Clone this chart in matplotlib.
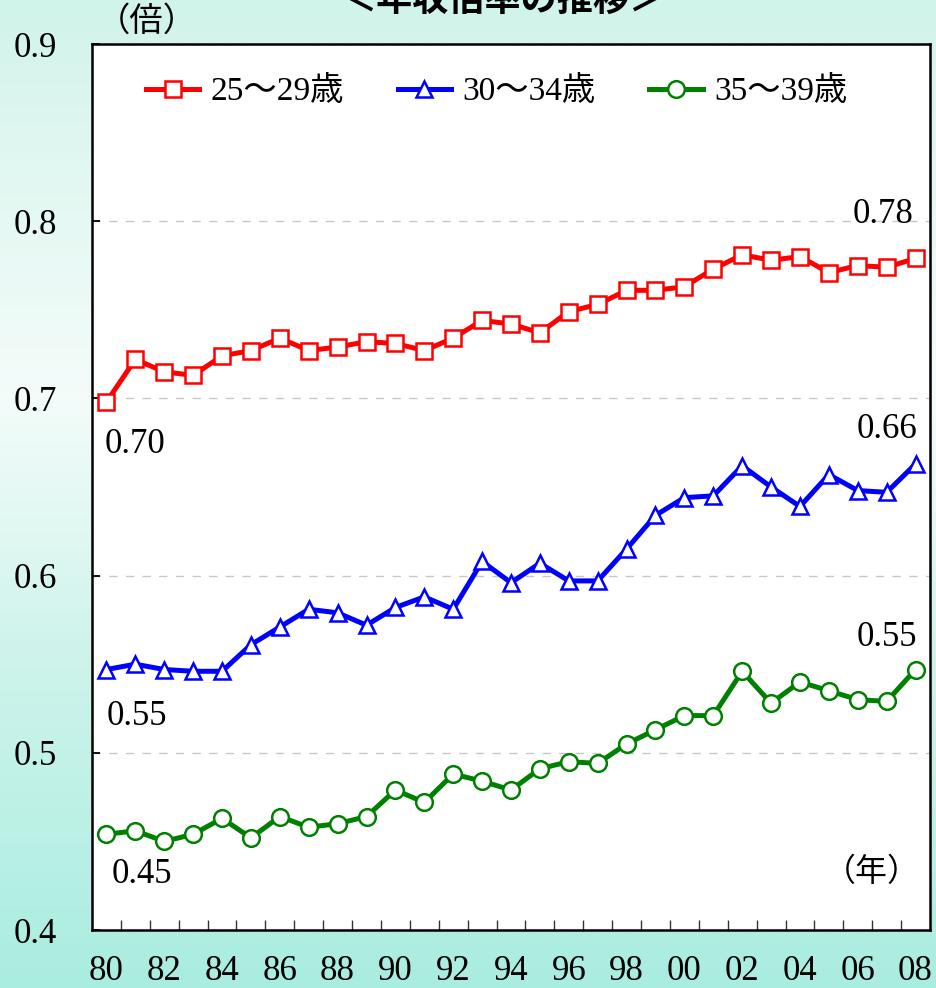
import numpy as np
import matplotlib
matplotlib.use("Agg")
import matplotlib.pyplot as plt
from matplotlib.colors import LinearSegmentedColormap

plt.rcParams['font.family'] = ['Liberation Serif', 'Noto Sans CJK JP']

# 年（1980〜2008）
years = list(range(1980, 2009))

# 年収倍率
ratio_25_29 = [0.698, 0.722, 0.715, 0.713, 0.724, 0.727, 0.734, 0.727, 0.729, 0.732,
               0.731, 0.727, 0.734, 0.744, 0.742, 0.737, 0.749, 0.753, 0.761, 0.761,
               0.763, 0.773, 0.781, 0.778, 0.780, 0.771, 0.775, 0.774, 0.779]
ratio_30_34 = [0.547, 0.550, 0.547, 0.546, 0.546, 0.561, 0.571, 0.581, 0.579, 0.572,
               0.582, 0.588, 0.581, 0.608, 0.596, 0.607, 0.597, 0.597, 0.615, 0.634,
               0.644, 0.645, 0.662, 0.650, 0.639, 0.657, 0.648, 0.647, 0.663]
ratio_35_39 = [0.454, 0.456, 0.450, 0.454, 0.463, 0.452, 0.464, 0.458, 0.460, 0.464,
               0.479, 0.472, 0.488, 0.484, 0.479, 0.491, 0.495, 0.494, 0.505, 0.513,
               0.521, 0.521, 0.546, 0.528, 0.540, 0.535, 0.530, 0.529, 0.547]

series = [
    ("25～29歳", ratio_25_29, "red", "s"),
    ("30～34歳", ratio_30_34, "blue", "^"),
    ("35～39歳", ratio_35_39, "green", "o"),
]

fig = plt.figure(figsize=(9.36, 9.88), dpi=100)

# 背景のグラデーション
bg = fig.add_axes([0, 0, 1, 1], zorder=-10)
cmap = LinearSegmentedColormap.from_list(
    "bg", [(0.0, "#a9ede0"), (0.35, "#d0f4ec"), (0.6, "#f4fcfa"), (0.85, "#e0f7f1"), (1.0, "#d0f3ea")])
grad = np.linspace(0, 1, 256).reshape(-1, 1)
bg.imshow(grad, aspect="auto", cmap=cmap, origin="lower", extent=[0, 1, 0, 1])
bg.axis("off")

ax = fig.add_axes([92/936, 58/988, 838/936, 886/988])
ax.set_facecolor("white")

for label, vals, color, marker in series:
    ax.plot(years, vals, color=color, lw=3.6, marker=marker, ms=12,
            mfc="white", mec=color, mew=1.8, label=label, zorder=3)

ax.set_xlim(1979.5, 2008.5)
ax.set_ylim(0.4, 0.9)

# 目盛り
ax.set_yticks([0.4, 0.5, 0.6, 0.7, 0.8, 0.9])
ax.set_yticklabels([f"{v:.1f}" for v in [0.4, 0.5, 0.6, 0.7, 0.8, 0.9]])
ax.tick_params(axis="y", direction="in", length=6, width=1.3, pad=25, labelsize=25)
ax.set_xticks(years[::2])
ax.set_xticklabels([f"{y % 100:02d}" for y in years[::2]])
ax.set_xticks([y + 0.5 for y in years[:-1]], minor=True)
ax.tick_params(axis="x", which="major", length=0, pad=18, labelsize=25)
ax.tick_params(axis="x", which="minor", direction="in", length=7, width=1, color="#333333")

ax.grid(axis="y", color="#c8c8c8", lw=1, ls=(0, (6, 6)))
ax.set_axisbelow(True)
for s in ax.spines.values():
    s.set_linewidth(1.8)
    s.set_color("black")

# 数値ラベル
fs = 25
ax.annotate(f"{ratio_25_29[0]:.2f}", (years[0], ratio_25_29[0]), xytext=(29, -43),
            textcoords="offset pixels", ha="center", va="center", fontsize=fs)
ax.annotate(f"{ratio_30_34[0]:.2f}", (years[0], ratio_30_34[0]), xytext=(30, -47),
            textcoords="offset pixels", ha="center", va="center", fontsize=fs)
ax.annotate(f"{ratio_35_39[0]:.2f}", (years[0], ratio_35_39[0]), xytext=(35, -40),
            textcoords="offset pixels", ha="center", va="center", fontsize=fs)
ax.annotate(f"{ratio_25_29[-1]:.2f}", (years[-1], ratio_25_29[-1]), xytext=(-32, 44),
            textcoords="offset pixels", ha="center", va="center", fontsize=fs)
ax.annotate(f"{ratio_30_34[-1]:.2f}", (years[-1], ratio_30_34[-1]), xytext=(-29, 34),
            textcoords="offset pixels", ha="center", va="center", fontsize=fs)
ax.annotate(f"{ratio_35_39[-1]:.2f}", (years[-1], ratio_35_39[-1]), xytext=(-29, 32),
            textcoords="offset pixels", ha="center", va="center", fontsize=fs)

fig.text(872/936, 1 - 873/988, "（年）", ha="center", va="center", fontsize=23)
fig.text(147/936, 1 - 22/988, "（倍）", ha="center", va="center", fontsize=24)
fig.text(503/936, 1.0, "＜年収倍率の推移＞", ha="center", va="center", fontsize=26,
         fontweight="bold", family=["Noto Sans CJK JP"])

ax.legend(loc="center", bbox_to_anchor=(0.483, 0.946), ncol=3, frameon=False,
          fontsize=24, handlelength=1.6, handletextpad=0.35, columnspacing=1.6)

fig.savefig("out.png", dpi=100)
